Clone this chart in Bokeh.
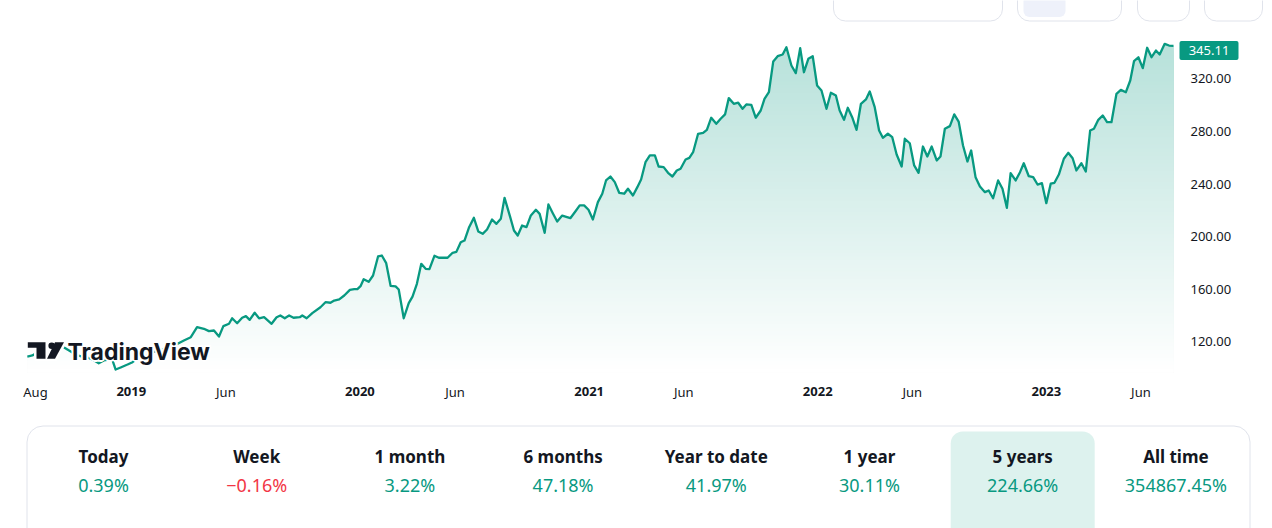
import numpy as np
import pandas as pd
from bokeh.plotting import figure
from bokeh.models import Range1d
from bokeh.core.properties import value
from bokeh.embed import file_html
from bokeh.resources import INLINE

# ---------------- data ----------------
start_date = "2018-07-19"
day_offsets = [
    0, 8, 16, 24, 32, 40, 48, 56, 64, 72,
    80, 88, 96, 104, 114, 122, 130, 136, 141, 149,
    160, 168, 176, 184, 192, 200, 208, 216, 224, 232,
    240, 250, 261, 271, 282, 290, 298, 306, 313, 322,
    327, 335, 343, 349, 355, 363, 370, 378, 390, 398,
    404, 411, 418, 425, 435, 439, 446, 455, 468, 476,
    484, 490, 498, 506, 515, 522, 527, 532, 537, 545,
    552, 560, 566, 573, 580, 588, 593, 601, 609, 615,
    622, 629, 636, 642, 650, 657, 671, 679, 685, 692,
    698, 705, 713, 720, 727, 734, 742, 749, 756, 762,
    771, 777, 783, 790, 797, 804, 812, 818, 826, 832,
    839, 846, 854, 867, 875, 882, 889, 896, 903, 911,
    918, 924, 931, 938, 945, 953, 959, 967, 974, 980,
    987, 994, 1002, 1008, 1016, 1023, 1030, 1037, 1043, 1051,
    1057, 1063, 1071, 1079, 1085, 1092, 1100, 1107, 1114, 1120,
    1128, 1135, 1142, 1148, 1156, 1163, 1171, 1177, 1184, 1191,
    1198, 1206, 1212, 1220, 1227, 1234, 1240, 1247, 1254, 1261,
    1268, 1276, 1283, 1291, 1297, 1304, 1310, 1317, 1324, 1331,
    1339, 1345, 1353, 1360, 1366, 1374, 1381, 1388, 1396, 1401,
    1409, 1416, 1423, 1430, 1437, 1444, 1452, 1458, 1465, 1473,
    1480, 1487, 1494, 1501, 1507, 1514, 1521, 1529, 1535, 1542,
    1550, 1557, 1564, 1570, 1578, 1585, 1591, 1599, 1606, 1613,
    1620, 1627, 1634, 1640, 1647, 1655, 1662, 1669, 1675, 1683,
    1690, 1697, 1703, 1710, 1717, 1724, 1731, 1739, 1746, 1754,
    1761, 1767, 1774, 1781, 1788, 1795, 1802, 1808, 1816, 1823,
    1830]
prices = [
    108.8, 109.6, 111.9, 114.2, 115.7, 117.2, 117.9, 116.4, 114.1, 111.9,
    109.6, 108.8, 108.1, 106.5, 103.7, 105.8, 106.5, 105.8, 98.9, 100.5,
    102.7, 104.5, 107.3, 108.8, 109.6, 111.9, 113.4, 114.2, 115.7, 117.2,
    118.5, 121.0, 123.5, 131.1, 129.9, 128.1, 128.6, 124.0, 131.9, 133.7,
    137.9, 134.1, 138.3, 139.5, 136.7, 142.1, 137.9, 138.7, 133.7, 138.7,
    140.0, 137.9, 140.0, 138.3, 138.7, 140.0, 137.9, 141.8, 146.3, 150.1,
    149.7, 151.4, 152.2, 155.2, 159.5, 160.0, 160.0, 162.3, 167.6, 165.6,
    170.4, 184.9, 185.6, 179.8, 162.6, 162.1, 159.8, 137.9, 149.4, 154.4,
    164.1, 179.3, 175.5, 175.2, 185.4, 183.9, 183.9, 187.7, 188.4, 195.7,
    197.0, 206.7, 214.3, 203.9, 202.1, 205.4, 213.0, 209.7, 213.5, 229.5,
    214.8, 204.6, 200.8, 208.4, 207.2, 216.1, 220.4, 217.3, 202.9, 224.4,
    217.8, 211.5, 216.0, 214.0, 219.1, 223.7, 223.7, 220.4, 213.0, 226.2,
    232.6, 242.7, 245.7, 241.4, 233.3, 232.6, 236.4, 231.3, 237.6, 243.4,
    256.6, 261.7, 261.7, 253.3, 252.8, 248.5, 245.7, 250.3, 251.6, 258.6,
    259.9, 264.2, 278.2, 278.9, 281.2, 290.4, 285.8, 289.6, 292.9, 305.3,
    301.0, 301.8, 297.2, 300.5, 300.2, 290.4, 295.9, 304.8, 309.8, 333.2,
    337.2, 338.5, 344.0, 330.1, 324.3, 343.3, 325.0, 335.2, 337.2, 314.9,
    311.1, 297.2, 309.4, 307.3, 295.9, 288.8, 298.0, 290.8, 281.2, 301.0,
    304.3, 310.4, 298.4, 280.7, 275.1, 278.2, 275.6, 262.4, 253.3, 274.4,
    271.0, 254.1, 248.5, 268.5, 260.9, 268.5, 257.9, 260.9, 282.0, 284.0,
    292.9, 287.5, 269.3, 257.1, 265.5, 245.2, 238.1, 233.8, 235.1, 229.2,
    242.7, 236.4, 221.9, 248.2, 242.7, 249.0, 255.8, 245.9, 245.2, 239.6,
    240.6, 225.4, 240.2, 240.9, 247.2, 259.2, 263.7, 259.6, 250.3, 255.8,
    249.5, 280.7, 282.0, 288.8, 292.1, 287.0, 287.0, 308.6, 311.6, 309.8,
    318.7, 333.4, 336.4, 328.1, 343.6, 336.4, 341.5, 338.5, 346.6, 345.3,
    345.11]
last_price = 345.11

price_ticks = [120, 160, 200, 240, 280, 320]
month_tick_dates = ["2018-08-01", "2019-06-01", "2020-06-01", "2021-06-01", "2022-06-01", "2023-06-01"]
month_tick_labels = ["Aug", "Jun", "Jun", "Jun", "Jun", "Jun"]
year_tick_dates = ["2019-01-01", "2020-01-01", "2021-01-01", "2022-01-01", "2023-01-01"]
year_tick_labels = ["2019", "2020", "2021", "2022", "2023"]

periods = ["Today", "Week", "1 month", "6 months", "Year to date", "1 year", "5 years", "All time"]
changes = [0.39, -0.16, 3.22, 47.18, 41.97, 30.11, 224.66, 354867.45]
selected_period = "5 years"
brand = "TradingView"

# ---------------- styling / layout ----------------
GREEN = "#089981"
RED = "#f23645"
TEXT = "#131722"
BORDER = "#e0e3eb"
FONT = "Noto Sans"

W, H = 1272, 528          # canvas == screenshot coordinates

# calibration of the time axis (canvas pixels)
anchor_ms = pd.Timestamp("2019-01-01").value / 1e6
anchor_px = 130.8
px_per_day = 0.6263
DAY_MS = 86400000.0


def px_to_ms(px):
    return anchor_ms + (px - anchor_px) / px_per_day * DAY_MS


# calibration of the price axis (canvas pixels)
ref_price, ref_py, py_per_unit = 120.0, 341.3, 1.315


def py_to_price(py):
    return ref_price + (ref_py - py) / py_per_unit


x_ms = (pd.Timestamp(start_date) + pd.to_timedelta(day_offsets, unit="D")).astype("int64") // 10**6
x_ms = np.asarray(x_ms, dtype=float)
y = np.asarray(prices, dtype=float)

p = figure(width=W, height=H,
           x_range=Range1d(px_to_ms(0), px_to_ms(W)),
           y_range=Range1d(py_to_price(H), py_to_price(0)),
           output_backend="svg", toolbar_location=None,
           x_axis_location=None, y_axis_location=None,
           min_border=0, min_border_left=0, min_border_right=0,
           min_border_top=0, min_border_bottom=0)
p.outline_line_color = None
p.grid.grid_line_color = None
p.background_fill_color = "white"
p.border_fill_color = "white"
p.extra_x_ranges = {"px": Range1d(0, W)}
p.extra_y_ranges = {"px": Range1d(H, 0)}

# ---------------- gradient area ----------------
grad_top_py, grad_bot_py = 36.0, 372.0
baseline = py_to_price(grad_bot_py)
n_bands = 90
edges = np.linspace(grad_top_py, grad_bot_py, n_bands + 1)
base_rgb = np.array([8, 153, 129], dtype=float)
for j in range(n_bands):
    mid = 0.5 * (edges[j] + edges[j + 1])
    a = 0.30 * (grad_bot_py - mid) / (grad_bot_py - grad_top_py)
    rgb = 255 - a * (255 - base_rgb)
    col = "#%02x%02x%02x" % tuple(int(round(c)) for c in rgb)
    cap = np.inf if j == 0 else py_to_price(edges[j])
    p.varea(x=x_ms, y1=np.full_like(y, baseline), y2=np.minimum(y, cap),
            fill_color=col, fill_alpha=1.0)

# price line
p.line(x_ms, y, line_color=GREEN, line_width=2.3, line_join="round")

# ---------------- right price scale ----------------
p.text(x=[1190] * len(price_ticks), y=price_ticks,
       text=[f"{t:.2f}" for t in price_ticks], x_range_name="px",
       text_align="left", text_baseline="middle",
       text_font=value(FONT), text_font_size="13px", text_color=TEXT)

last_py = ref_py - (last_price - ref_price) * py_per_unit + 4.6
p.quad(left=[1179], right=[1238], top=[last_py - 9.5], bottom=[last_py + 9.5],
       x_range_name="px", y_range_name="px",
       fill_color=GREEN, line_color=None, border_radius=2)
p.text(x=[1208.5], y=[last_py + 0.5], text=[f"{last_price:.2f}"],
       x_range_name="px", y_range_name="px",
       text_align="center", text_baseline="middle",
       text_font=value(FONT), text_font_size="13px", text_color="white")

# ---------------- time scale labels ----------------
p.text(x=[pd.Timestamp(d).value / 1e6 for d in month_tick_dates], y=[391] * len(month_tick_dates),
       text=month_tick_labels, y_range_name="px",
       text_align="center", text_baseline="middle",
       text_font=value(FONT), text_font_size="13px", text_color=TEXT)
p.text(x=[pd.Timestamp(d).value / 1e6 for d in year_tick_dates], y=[391] * len(year_tick_dates),
       text=year_tick_labels, y_range_name="px",
       text_align="center", text_baseline="middle",
       text_font=value(FONT), text_font_size="13px", text_font_style="bold", text_color=TEXT)

# ---------------- watermark logo (with white halo) ----------------
t_x = [27.3, 45, 45, 36, 36, 27.3]
t_y = [341.7, 341.7, 358.3, 358.3, 347.3, 347.3]
s_x = [54.5, 63.5, 54.5, 46.5]
s_y = [341.7, 341.7, 358.3, 358.3]
logo_tx, logo_ty = 67.0, 351.0
for xs, ys in ((t_x, t_y), (s_x, s_y)):
    p.patch(x=xs, y=ys, x_range_name="px", y_range_name="px",
            fill_color="white", line_color="white", line_width=5, line_join="round")
p.circle(x=[51.2], y=[345.2], radius=5.5, x_range_name="px", y_range_name="px",
         fill_color="white", line_color=None)
for dx, dy in [(-2, 0), (2, 0), (0, -2), (0, 2), (-1.5, -1.5), (1.5, -1.5), (-1.5, 1.5), (1.5, 1.5)]:
    p.text(x=[logo_tx], y=[logo_ty], text=[brand], x_range_name="px", y_range_name="px",
           x_offset=dx, y_offset=dy,
           text_align="left", text_baseline="alphabetic",
           text_font=value("Inter"), text_font_size="23px", text_font_style="bold",
           text_color="white")
for xs, ys in ((t_x, t_y), (s_x, s_y)):
    p.patch(x=xs, y=ys, x_range_name="px", y_range_name="px",
            fill_color=TEXT, line_color=None)
p.circle(x=[51.2], y=[345.2], radius=3.3, x_range_name="px", y_range_name="px",
         fill_color=TEXT, line_color=None)
p.text(x=[logo_tx], y=[logo_ty], text=[brand], x_range_name="px", y_range_name="px",
       text_align="left", text_baseline="alphabetic",
       text_font=value("Inter"), text_font_size="23px", text_font_style="bold",
       text_color=TEXT)

# ---------------- top (cut-off) buttons ----------------
btn_l = [833, 1017, 1137, 1204]
btn_r = [1002, 1121, 1189, 1262]
p.quad(left=btn_l, right=btn_r, top=[-30] * 4, bottom=[20.5] * 4,
       x_range_name="px", y_range_name="px",
       fill_color="white", line_color=BORDER, line_width=1, border_radius=12)
p.quad(left=[1023], right=[1065], top=[-10], bottom=[16.5],
       x_range_name="px", y_range_name="px",
       fill_color="#eef1fa", line_color=None, border_radius=6)

# ---------------- performance panel ----------------
p.quad(left=[26.5], right=[1249.5], top=[425.5], bottom=[580],
       x_range_name="px", y_range_name="px",
       fill_color="white", line_color=BORDER, line_width=1, border_radius=16)

col_x0, col_w = 103.0, 153.2
col_x = [col_x0 + i * col_w for i in range(len(periods))]
sel = periods.index(selected_period)
p.quad(left=[col_x[sel] - 72], right=[col_x[sel] + 72], top=[431], bottom=[580],
       x_range_name="px", y_range_name="px",
       fill_color="#ddf2ee", line_color=None, border_radius=12)

p.text(x=col_x, y=[456] * len(periods), text=periods,
       x_range_name="px", y_range_name="px",
       text_align="center", text_baseline="middle",
       text_font=value(FONT), text_font_size="17px", text_font_style="bold",
       text_color=TEXT)


def fmt(c):
    s = f"{abs(c):.2f}%"
    return ("\u2212" + s) if c < 0 else s


p.text(x=col_x, y=[484] * len(periods), text=[fmt(c) for c in changes],
       x_range_name="px", y_range_name="px",
       text_align="center", text_baseline="middle",
       text_font=value(FONT), text_font_size="18px",
       text_color=[RED if c < 0 else GREEN for c in changes])

open("out.html", "w").write(file_html(p, INLINE))
